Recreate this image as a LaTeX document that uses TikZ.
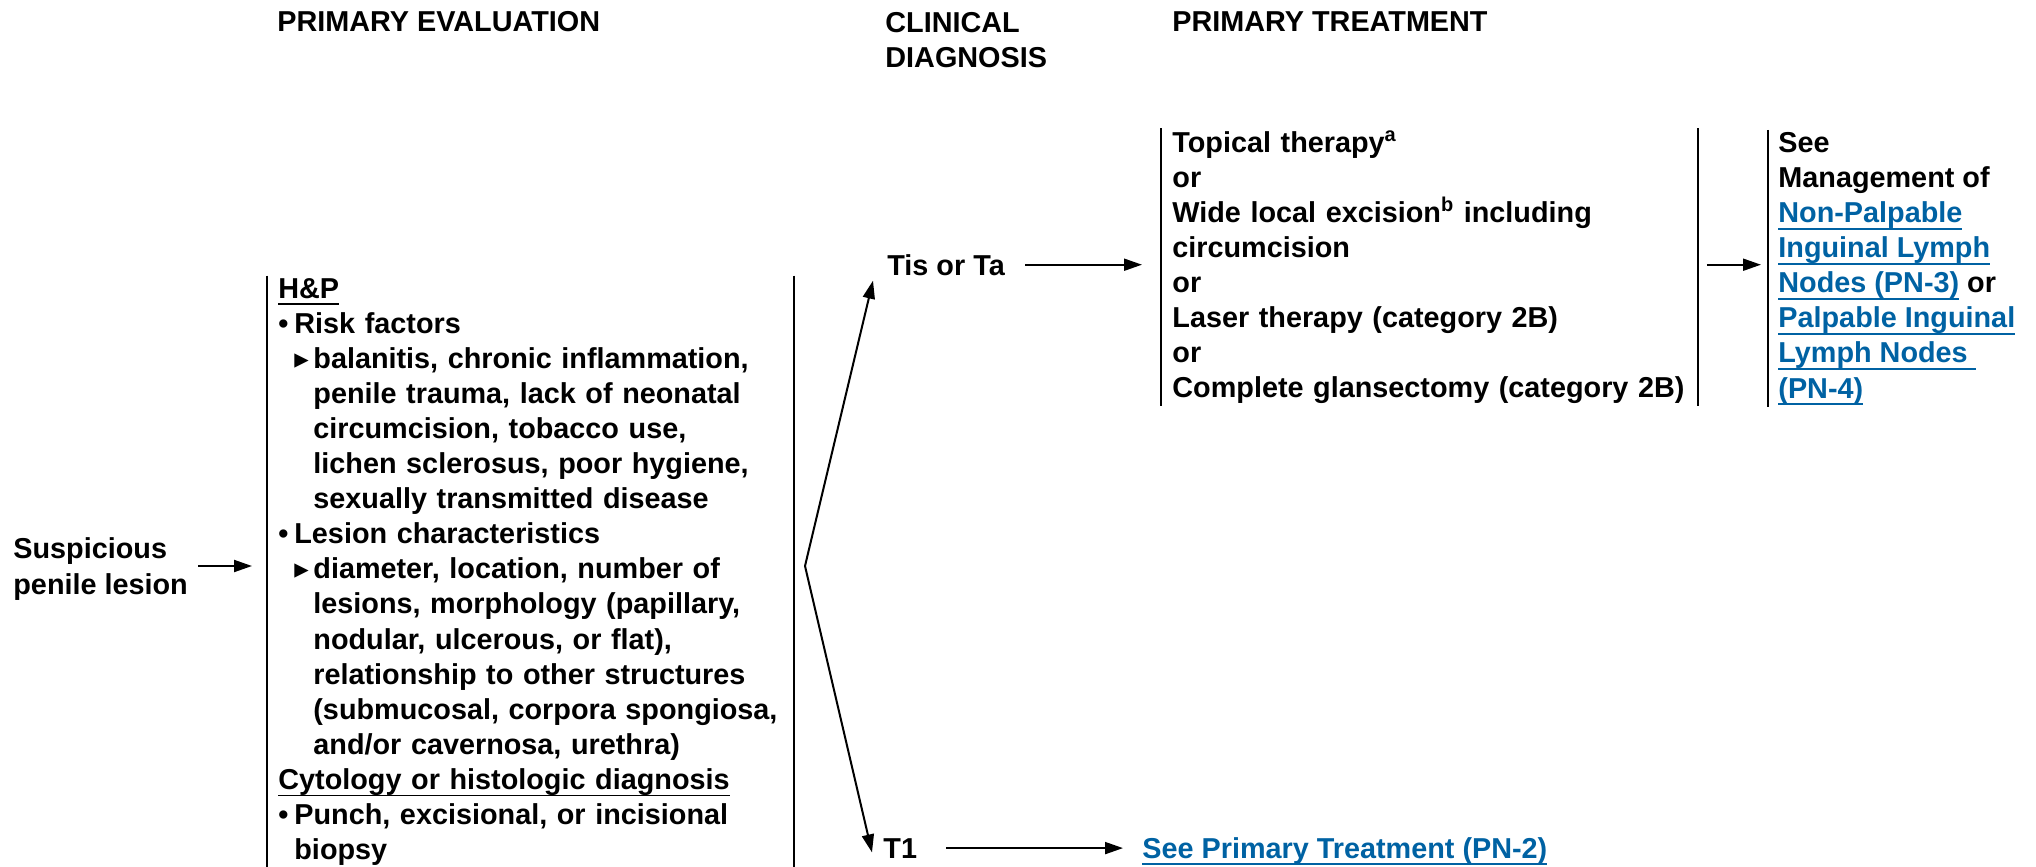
\documentclass[tikz,border=0pt]{standalone}
\usepackage{fontspec}
\setmainfont{Liberation Sans}
\newfontfamily\symfont{DejaVu Sans}
\usepackage{tikz}
\usetikzlibrary{arrows.meta,positioning}

\definecolor{nccnblue}{RGB}{0,98,163}
\newsavebox{\ulbox}
\newcommand{\uln}[1]{\leavevmode\sbox{\ulbox}{#1}\rlap{\rule[-3.5pt]{\wd\ulbox}{0.9pt}}\usebox{\ulbox}}
\newcommand{\lnk}[1]{\textcolor{nccnblue}{\uln{#1}}}
\newcommand{\blt}{\makebox[8pt][l]{•}}
\newcommand{\tri}{\makebox[9.5pt][l]{\symfont ▸}}

\begin{document}
\begin{tikzpicture}[x=0.5pt, y=-0.5pt,
	txt/.style={inner sep=0pt, align=left, font=\fontsize{14.4}{17.55}\selectfont\bfseries},
	hdr/.style={txt},
	blk/.style={txt, inner xsep=5.5pt, inner ysep=1pt},
	bar/.style={line width=1pt},
	arr/.style={line width=1pt, -{Triangle[length=9pt, width=6pt]}}]
	\useasboundingbox (0,0) rectangle (2036,867);
	%
	\node [hdr, anchor=base west] (hdreval) at (277,32) {PRIMARY EVALUATION};
	\node [hdr, anchor=base west] (hdrdiag) at (885,68) {CLINICAL\\DIAGNOSIS};
	\node [hdr, anchor=base west] (hdrtreat) at (1172,32) {PRIMARY TREATMENT};
	%
	\node [txt, anchor=base west] (lesion) at (13,594) {Suspicious\\penile lesion};
	\node [blk, text width=252pt, anchor=base west] (hp) at (267,298) {%
		\uln{H\&P}\\
		\blt Risk factors\\
		\hspace*{8pt}\tri balanitis, chronic inflammation,\\
		\hspace*{17.5pt}penile trauma, lack of neonatal\\
		\hspace*{17.5pt}circumcision, tobacco use,\\
		\hspace*{17.5pt}lichen sclerosus, poor hygiene,\\
		\hspace*{17.5pt}sexually transmitted disease\\
		\blt Lesion characteristics\\
		\hspace*{8pt}\tri diameter, location, number of\\
		\hspace*{17.5pt}lesions, morphology (papillary,\\
		\hspace*{17.5pt}nodular, ulcerous, or flat),\\
		\hspace*{17.5pt}relationship to other structures\\
		\hspace*{17.5pt}(submucosal, corpora spongiosa,\\
		\hspace*{17.5pt}and/or cavernosa, urethra)\\
		\uln{Cytology or histologic diagnosis}\\
		\blt Punch, excisional, or incisional\\
		\hspace*{8pt}biopsy};
	\coordinate (split) at (805,566);
	%
	\node [txt, anchor=base west] (tis) at (887,275) {Tis or Ta};
	\node [txt, anchor=base west] (t1) at (883,858) {T1};
	%
	\node [blk, text width=257pt, anchor=base west] (treat) at (1161,152) {%
		Topical therapy\textsuperscript{a}\\
		or\\
		Wide local excision\textsuperscript{b} including\\
		circumcision\\
		or\\
		Laser therapy (category 2B)\\
		or\\
		Complete glansectomy (category 2B)};
	\node [blk, inner xsep=5pt, anchor=base west] (see) at (1768,398) {%
		See\\
		Management of\\
		\lnk{Non-Palpable}\\
		\lnk{Inguinal Lymph}\\
		\lnk{Nodes (PN-3)} or\\
		\lnk{Palpable Inguinal}\\
		\lnk{Lymph Nodes\ }\\
		\lnk{(PN-4)}};
	\node [txt, anchor=base west] (pn2) at (1142,858) {\lnk{See Primary Treatment (PN-2)}};
	%
	\draw [bar] (hp.north west) -- (hp.south west);
	\draw [bar] (hp.north east) -- (hp.south east);
	\draw [bar] (treat.north west) -- (treat.south west);
	\draw [bar] (treat.north east) -- (treat.south east);
	\draw [bar] (see.north west) -- (see.south west);
	%
	\draw [arr, shorten <=5pt, shorten >=7.5pt] (lesion.east |- split) -- (hp.west |- split);
	\draw [arr] (split) -- ([shift={(-14,5)}]tis.south west);
	\draw [arr] (split) -- ([shift={(-11,-6)}]t1.south west);
	\draw [arr, shorten <=10pt, shorten >=9.5pt] (tis.east) -- (treat.west |- tis.east);
	\draw [arr, shorten <=4.5pt, shorten >=3.5pt] (treat.east |- tis.east) -- (see.west |- tis.east);
	\draw [arr, shorten <=14.5pt, shorten >=9.5pt] (t1.east) -- (t1.east -| pn2.west);
\end{tikzpicture}
\end{document}
